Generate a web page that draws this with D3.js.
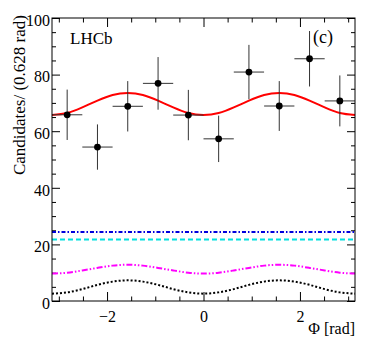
<!DOCTYPE html>
<html>
<head>
<meta charset="utf-8">
<script src="https://cdn.jsdelivr.net/npm/d3@7"></script>
<style>
  body { margin: 0; background: #fff; }
  svg text { font-family: 'Liberation Serif', 'Times New Roman', Times, 'DejaVu Serif', serif; fill: #000; }
  .axis path { stroke: none; }
  .axis line { stroke: #000; }
</style>
</head>
<body>
<div id="chart"></div>
<script>
// bin centres (rad), measured yields and errors
const binCenters = [-2.827, -2.199, -1.571, -0.942, -0.314, 0.314, 0.942, 1.571, 2.199, 2.827];
const counts = [65.8, 54.4, 68.8, 76.9, 65.7, 57.3, 80.9, 68.9, 85.6, 70.7];
const errors = [8.9, 8.0, 8.9, 9.3, 8.9, 8.2, 9.6, 8.8, 9.8, 9.0];
const binHalfWidth = 0.314;

const phiSamples = [-3.142, -2.827, -2.513, -2.199, -1.885, -1.571, -1.257, -0.942, -0.628, -0.314, 0,
  0.314, 0.628, 0.942, 1.257, 1.571, 1.885, 2.199, 2.513, 2.827, 3.142];
const totalFit = [65.7, 66.4, 68.4, 70.8, 72.8, 73.5, 72.8, 70.8, 68.4, 66.4, 65.7,
  66.4, 68.4, 70.8, 72.8, 73.5, 72.8, 70.8, 68.4, 66.4, 65.7];
const blueComp = [24.4, 24.4, 24.4, 24.4, 24.4, 24.4, 24.4, 24.4, 24.4, 24.4, 24.4,
  24.4, 24.4, 24.4, 24.4, 24.4, 24.4, 24.4, 24.4, 24.4, 24.4];
const cyanComp = [21.7, 21.7, 21.7, 21.7, 21.7, 21.7, 21.7, 21.7, 21.7, 21.7, 21.7,
  21.7, 21.7, 21.7, 21.7, 21.7, 21.7, 21.7, 21.7, 21.7, 21.7];
const magentaComp = [9.7, 10.0, 10.8, 11.7, 12.5, 12.8, 12.5, 11.7, 10.8, 10.0, 9.7,
  10.0, 10.8, 11.7, 12.5, 12.8, 12.5, 11.7, 10.8, 10.0, 9.7];
const blackComp = [2.6, 3.05, 4.2, 5.7, 6.85, 7.3, 6.85, 5.7, 4.2, 3.05, 2.6,
  3.05, 4.2, 5.7, 6.85, 7.3, 6.85, 5.7, 4.2, 3.05, 2.6];

const xMajorTicks = [-2, 0, 2];
const xMinorTicks = [-3, -2.5, -1.5, -1, -0.5, 0.5, 1, 1.5, 2.5, 3];
const yMajorTicks = [0, 20, 40, 60, 80, 100];
const yMinorTicks = [5, 10, 15, 25, 30, 35, 45, 50, 55, 65, 70, 75, 85, 90, 95];

const serif = "'Liberation Serif', 'Times New Roman', Times, 'DejaVu Serif', serif";

const config = {
  containerWidth: 374,
  containerHeight: 359,
  margin: { top: 18, right: 19, bottom: 58, left: 52 },
};

const width = config.containerWidth - config.margin.left - config.margin.right;
const height = config.containerHeight - config.margin.top - config.margin.bottom;

const svg = d3.select('#chart').append('svg')
  .attr('width', config.containerWidth)
  .attr('height', config.containerHeight);

const chart = svg.append('g')
  .attr('transform', `translate(${config.margin.left},${config.margin.top})`);

const xScale = d3.scaleLinear().domain([-Math.PI, Math.PI]).range([0, width]);
const yScale = d3.scaleLinear().domain([0, 100]).range([height, 0]);

// axes: ROOT style, ticks pointing inwards on all four sides
const addAxis = (axisFn, ticks, size, transform, labels) => {
  const horizontal = axisFn === d3.axisBottom || axisFn === d3.axisTop;
  const axis = axisFn(horizontal ? xScale : yScale)
    .tickValues(ticks)
    .tickSize(-size)
    .tickPadding(axisFn === d3.axisBottom ? 10 : 2)
    .tickFormat(labels ? d3.format('d') : '');
  const g = chart.append('g')
    .attr('class', 'axis')
    .attr('transform', transform)
    .call(axis)
    .attr('font-family', serif)
    .attr('font-size', 16);
  if (axisFn === d3.axisLeft) g.selectAll('text').attr('dy', '0.45em');
  return g;
};

addAxis(d3.axisBottom, xMajorTicks, 9, `translate(0,${height})`, true);
addAxis(d3.axisBottom, xMinorTicks, 4.5, `translate(0,${height})`, false);
addAxis(d3.axisTop, xMajorTicks, 9, 'translate(0,0)', false);
addAxis(d3.axisTop, xMinorTicks, 4.5, 'translate(0,0)', false);
addAxis(d3.axisLeft, yMajorTicks, 8, 'translate(0,0)', true);
addAxis(d3.axisLeft, yMinorTicks, 4, 'translate(0,0)', false);
addAxis(d3.axisRight, yMajorTicks, 8, `translate(${width},0)`, false);
addAxis(d3.axisRight, yMinorTicks, 4, `translate(${width},0)`, false);

// component curves
const components = [
  { values: blackComp, color: '#000', dash: '2,2', widthPx: 2 },
  { values: magentaComp, color: '#ff00ff', dash: '6,2,1.5,2,1.5,2', widthPx: 2 },
  { values: cyanComp, color: '#00e0e0', dash: '5,3', widthPx: 2 },
  { values: blueComp, color: '#0000dd', dash: '4,2,1.5,2', widthPx: 2 },
  { values: totalFit, color: '#ff0000', dash: null, widthPx: 2 },
];

const line = d3.line()
  .x((d) => xScale(d[0]))
  .y((d) => yScale(d[1]))
  .curve(d3.curveNatural);

chart.selectAll('.comp')
  .data(components)
  .join('path')
  .attr('class', 'comp')
  .attr('fill', 'none')
  .attr('stroke', (d) => d.color)
  .attr('stroke-width', (d) => d.widthPx)
  .attr('stroke-dasharray', (d) => d.dash)
  .attr('d', (d) => line(phiSamples.map((p, i) => [p, d.values[i]])));

// data points with error bars
const points = binCenters.map((c, i) => ({ x: c, y: counts[i], err: errors[i] }));

const pts = chart.selectAll('.pt')
  .data(points)
  .join('g')
  .attr('class', 'pt');

pts.append('line')
  .attr('x1', (d) => xScale(d.x - binHalfWidth))
  .attr('x2', (d) => xScale(d.x + binHalfWidth))
  .attr('y1', (d) => yScale(d.y))
  .attr('y2', (d) => yScale(d.y))
  .attr('stroke', '#333')
  .attr('stroke-width', 1);

pts.append('line')
  .attr('x1', (d) => xScale(d.x))
  .attr('x2', (d) => xScale(d.x))
  .attr('y1', (d) => yScale(d.y - d.err))
  .attr('y2', (d) => yScale(d.y + d.err))
  .attr('stroke', '#333')
  .attr('stroke-width', 1);

pts.append('circle')
  .attr('cx', (d) => xScale(d.x))
  .attr('cy', (d) => yScale(d.y))
  .attr('r', 3.4)
  .attr('fill', '#000');

// frame
chart.append('rect')
  .attr('width', width)
  .attr('height', height)
  .attr('fill', 'none')
  .attr('stroke', '#000')
  .attr('stroke-width', 1);

// labels
chart.append('text')
  .attr('x', 18)
  .attr('y', 25.5)
  .attr('font-family', serif)
  .attr('font-size', 17)
  .text('LHCb');

chart.append('text')
  .attr('x', 261)
  .attr('y', 24.5)
  .attr('font-family', serif)
  .attr('font-size', 18)
  .text('(c)');

svg.append('text')
  .attr('transform', 'translate(25,15) rotate(-90)')
  .attr('text-anchor', 'end')
  .attr('font-family', serif)
  .attr('font-size', 17)
  .text('Candidates/ (0.628 rad)');

svg.append('text')
  .attr('x', config.margin.left + width)
  .attr('y', 334)
  .attr('text-anchor', 'end')
  .attr('font-family', serif)
  .attr('font-size', 16)
  .text('Φ [rad]');
</script>
</body>
</html>
